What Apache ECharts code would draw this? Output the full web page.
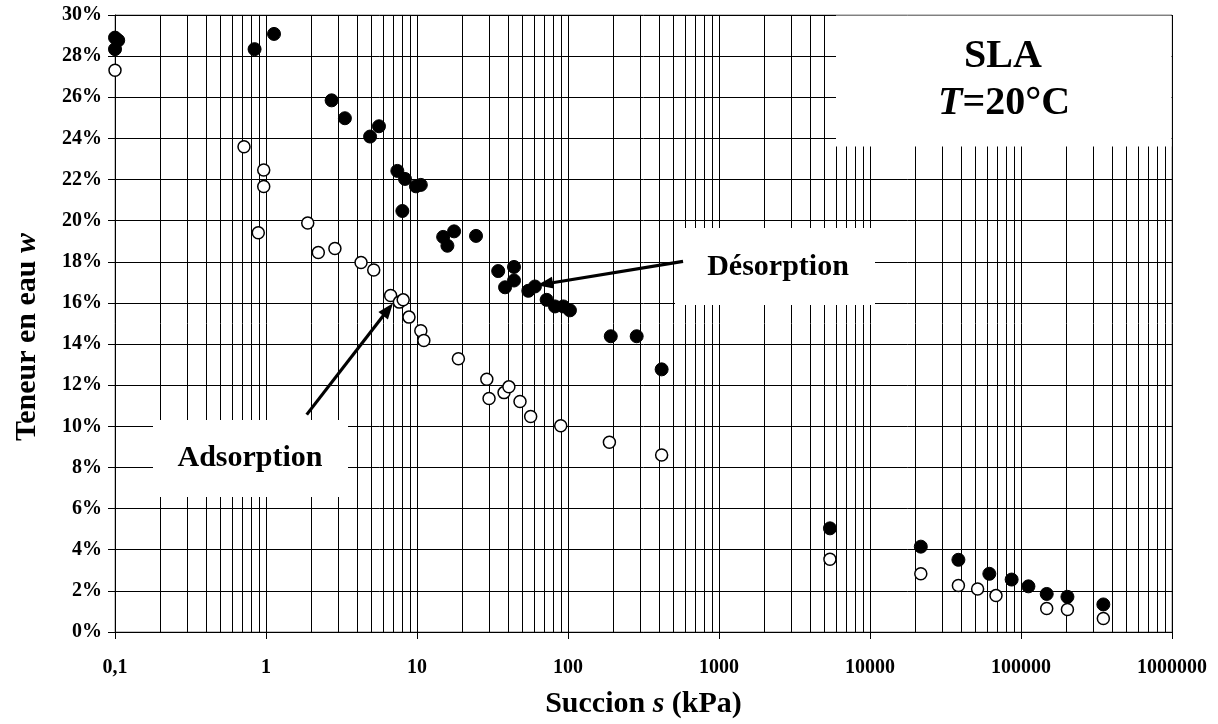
<!DOCTYPE html>
<html>
<head>
<meta charset="utf-8">
<script src="https://cdn.jsdelivr.net/npm/echarts@6/dist/echarts.min.js"></script>
<style>
html,body{margin:0;padding:0;background:#fff;}
#chart{width:1218px;height:724px;}
</style>
</head>
<body>
<div id="chart"></div>
<script>
// ---- Data (suction s in kPa, water content w in %) ----
const desorptionS = [0.1, 0.105, 0.1, 0.84, 1.13, 2.72, 3.33, 4.89, 5.6, 7.41, 8.33, 8.0, 9.84, 10.6,
  14.9, 15.9, 17.6, 24.6, 34.5, 43.9, 43.9, 38.3, 54.6, 60.4, 72.2, 82.0, 93.1, 103,
  192, 285, 417, 5430, 21700, 38500, 61700, 86700, 112000, 148000, 203000, 351000];
const desorptionW = [28.9, 28.77, 28.34, 28.34, 29.08, 25.85, 24.98, 24.09, 24.59, 22.42, 22.03, 20.47, 21.67, 21.74,
  19.21, 18.78, 19.48, 19.26, 17.55, 17.75, 17.09, 16.76, 16.59, 16.8, 16.15, 15.83, 15.83, 15.64,
  14.38, 14.38, 12.77, 5.04, 4.15, 3.51, 2.83, 2.55, 2.22, 1.85, 1.71, 1.34];

const adsorptionS = [0.1, 0.715, 0.966, 0.966, 0.889, 1.89, 2.22, 2.86, 4.26, 5.17, 6.69, 7.64, 8.1, 8.85, 10.6, 11.1,
  18.8, 29.0, 30.0, 37.7, 40.6, 48.1, 56.6, 89.5, 188, 417, 5430,
  21700, 38500, 51600, 68300, 148000, 203000, 351000];
const adsorptionW = [27.31, 23.59, 22.46, 21.66, 19.41, 19.89, 18.45, 18.65, 17.97, 17.6, 16.36, 16.04, 16.15, 15.31, 14.65, 14.17,
  13.29, 12.29, 11.35, 11.64, 11.92, 11.21, 10.48, 10.03, 9.23, 8.61, 3.54,
  2.83, 2.26, 2.09, 1.77, 1.14, 1.09, 0.66];

const xMin = 0.1, xMax = 1000000;
const yMin = 0, yMax = 30, yStep = 2;
const xDecades = [0.1, 1, 10, 100, 1000, 10000, 100000, 1000000];
const xTickLabels = ['0,1', '1', '10', '100', '1000', '10000', '100000', '1000000'];

// Annotation arrows (data coordinates: [s, w])
const arrowDesorption = [[578, 18.02], [62.4, 16.86]];
const arrowAdsorption = [[1.86, 10.57], [6.93, 15.99]];

const FONT = "'Liberation Serif', 'Times New Roman', serif";

// minor vertical gridlines at 2..9 x 10^k
const minorGrid = [];
for (let k = 0; k < xDecades.length - 1; k++) {
  for (let m = 2; m <= 9; m++) minorGrid.push({ xAxis: xDecades[k] * m });
}

const chart = echarts.init(document.getElementById('chart'), null, { renderer: 'canvas' });

function pairs(xs, ys) { return xs.map((x, i) => [x, ys[i]]); }

const option = {
  animation: false,
  backgroundColor: '#fff',
  grid: { left: 115, top: 15, width: 1057, height: 621, show: true, borderColor: '#888', borderWidth: 1, backgroundColor: 'transparent' },
  xAxis: {
    type: 'log', logBase: 10, min: xMin, max: xMax,
    axisLine: { show: true, lineStyle: { color: '#000', width: 1 } },
    axisTick: { show: true, length: 7, inside: false, lineStyle: { color: '#000' } },
    splitLine: { show: true, lineStyle: { color: '#000', width: 1 } },
    axisLabel: {
      margin: 26, fontFamily: FONT, fontWeight: 'bold', fontSize: 20, color: '#000',
      formatter: function (v) {
        let best = 0, d = Infinity;
        xDecades.forEach((t, i) => { const e = Math.abs(Math.log10(v) - Math.log10(t)); if (e < d) { d = e; best = i; } });
        return xTickLabels[best];
      }
    },
    name: 'Succion {i|s} (kPa)',
    nameLocation: 'middle', nameGap: 57,
    nameTextStyle: {
      fontFamily: FONT, fontWeight: 'bold', fontSize: 30, color: '#000',
      rich: { i: { fontFamily: FONT, fontWeight: 'bold', fontStyle: 'italic', fontSize: 30, color: '#000' } }
    }
  },
  yAxis: {
    type: 'value', min: yMin, max: yMax, interval: yStep,
    axisLine: { show: true, lineStyle: { color: '#000', width: 1 } },
    axisTick: { show: true, length: 7, lineStyle: { color: '#000' } },
    splitLine: { show: true, lineStyle: { color: '#000', width: 1 } },
    axisLabel: { margin: 13, fontFamily: FONT, fontWeight: 'bold', fontSize: 20, color: '#000', formatter: '{value}%' }
  },
  series: [
    {
      type: 'scatter', name: 'grid', data: [], z: 1, silent: true,
      markLine: {
        silent: true, symbol: 'none', animation: false,
        label: { show: false },
        lineStyle: { color: '#000', width: 1, type: 'solid' },
        emphasis: { disabled: true },
        data: minorGrid
      }
    },
    {
      type: 'scatter', name: 'Désorption', z: 5,
      data: pairs(desorptionS, desorptionW),
      symbol: 'circle', symbolSize: 13,
      itemStyle: { color: '#000', borderColor: '#000', borderWidth: 1, opacity: 1 }
    },
    {
      type: 'scatter', name: 'Adsorption', z: 6,
      data: pairs(adsorptionS, adsorptionW),
      symbol: 'circle', symbolSize: 12,
      itemStyle: { color: '#fff', borderColor: '#000', borderWidth: 1.5, opacity: 1 }
    }
  ]
};
chart.setOption(option);

function arrowGraphic(seg) {
  const p0 = chart.convertToPixel({ gridIndex: 0 }, seg[0]);
  const p1 = chart.convertToPixel({ gridIndex: 0 }, seg[1]);
  const dx = p1[0] - p0[0], dy = p1[1] - p0[1];
  const len = Math.sqrt(dx * dx + dy * dy);
  const ux = dx / len, uy = dy / len;
  const headL = 16, headW = 6;
  const bx = p1[0] - ux * headL, by = p1[1] - uy * headL;
  return [
    { type: 'line', z: 60, shape: { x1: p0[0], y1: p0[1], x2: bx + ux * 2, y2: by + uy * 2 }, style: { stroke: '#000', lineWidth: 3.2 } },
    { type: 'polygon', z: 60, shape: { points: [[p1[0], p1[1]], [bx - uy * headW, by + ux * headW], [bx + uy * headW, by - ux * headW]] }, style: { fill: '#000' } }
  ];
}

const graphics = [
  // SLA box
  { type: 'rect', z: 50, shape: { x: 836, y: 15.5, width: 335.5, height: 131 }, style: { fill: '#fff', stroke: null } },
  { type: 'text', z: 55, x: 1003, y: 57, style: { text: 'SLA', font: 'bold 40px ' + FONT, fill: '#000', align: 'center', verticalAlign: 'middle' } },
  { type: 'text', z: 55, x: 1004, y: 104, style: {
      text: '{i|T}=20°C', font: 'bold 40px ' + FONT, fill: '#000', align: 'center', verticalAlign: 'middle',
      rich: { i: { font: 'italic bold 40px ' + FONT, fill: '#000' } } } },
  // Désorption box
  { type: 'rect', z: 50, shape: { x: 675, y: 228, width: 200, height: 77 }, style: { fill: '#fff' } },
  { type: 'text', z: 55, x: 778, y: 267, style: { text: 'Désorption', font: 'bold 30px ' + FONT, fill: '#000', align: 'center', verticalAlign: 'middle' } },
  // Adsorption box
  { type: 'rect', z: 50, shape: { x: 153, y: 420, width: 195, height: 77 }, style: { fill: '#fff' } },
  { type: 'text', z: 55, x: 250, y: 458, style: { text: 'Adsorption', font: 'bold 30px ' + FONT, fill: '#000', align: 'center', verticalAlign: 'middle' } },
  // Y axis title
  { type: 'text', z: 55, x: 27, y: 337, rotation: Math.PI / 2, style: {
      text: 'Teneur en eau {i|w}', font: 'bold 30px ' + FONT, fill: '#000', align: 'center', verticalAlign: 'middle',
      rich: { i: { font: 'italic bold 30px ' + FONT, fill: '#000' } } } }
].concat(arrowGraphic(arrowDesorption), arrowGraphic(arrowAdsorption));

chart.setOption({ graphic: graphics });
</script>
</body>
</html>
